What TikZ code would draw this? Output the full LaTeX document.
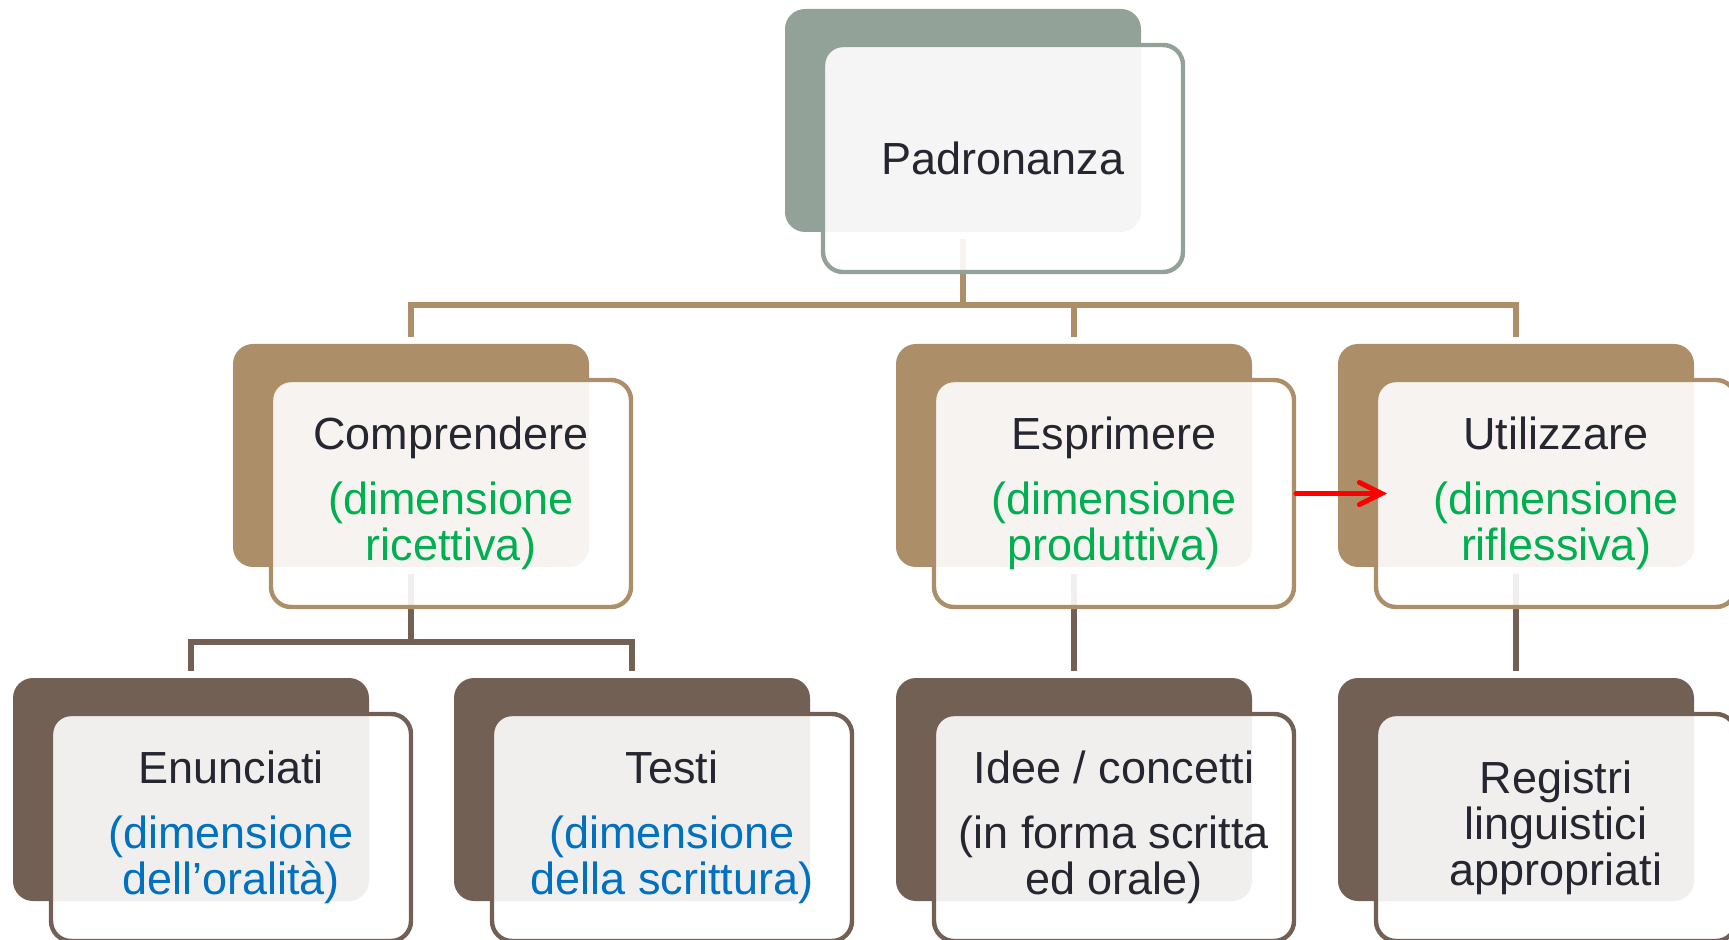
\documentclass[tikz,border=0pt]{standalone}
\usepackage{fontspec}
\setmainfont{Liberation Sans}
\usetikzlibrary{arrows.meta}
\definecolor{topC}{RGB}{146,162,152}
\definecolor{midC}{RGB}{172,142,104}
\definecolor{lowC}{RGB}{115,96,85}
\definecolor{txt}{RGB}{38,38,48}
\definecolor{grn}{RGB}{0,176,80}
\definecolor{blu}{RGB}{0,112,192}
\begin{document}
\begin{tikzpicture}[x=0.5pt,y=-0.5pt,
  back/.style={rounded corners=10pt, minimum width=178pt, minimum height=111.5pt,
    anchor=north west, inner sep=0pt, outer sep=0pt},
  front/.style={rounded corners=10pt, minimum width=180pt, minimum height=113.5pt,
    anchor=north west, fill=white, fill opacity=0.9, text opacity=1, draw opacity=1,
    line width=2.2pt, align=center, inner sep=0pt, outer sep=0pt, text=txt,
    font=\fontsize{22.5}{23}\selectfont},
  connA/.style={draw=midC, line width=2.6pt, shorten <=3.5pt, shorten >=3.5pt},
  connB/.style={draw=lowC, line width=2.6pt, shorten <=3.5pt, shorten >=3.5pt},
  redarrow/.style={draw=red, line width=2.5pt, line cap=round,
    -{Straight Barb[length=11pt,width=11pt,line cap=round]}}
]
\useasboundingbox (0,0) rectangle (1729,940);

% back rectangles
\node[back, fill=topC] (topB) at (785,9) {};
\node[back, fill=midC] (comB) at (233,344) {};
\node[back, fill=midC] (espB) at (896,344) {};
\node[back, fill=midC] (utiB) at (1338,344) {};
\node[back, fill=lowC] (enuB) at (13,678) {};
\node[back, fill=lowC] (tesB) at (454,678) {};
\node[back, fill=lowC] (ideB) at (896,678) {};
\node[back, fill=lowC] (regB) at (1338,678) {};

% connectors
\coordinate (busA) at (0,305);
\coordinate (busB) at (0,642);
\draw[connA] (topB.south) -- (topB.south |- busA) -| (comB.north);
\draw[connA] (topB.south) -- (topB.south |- busA) -| (espB.north);
\draw[connA] (topB.south) -- (topB.south |- busA) -| (utiB.north);
\draw[connB] (comB.south) -- (comB.south |- busB) -| (enuB.north);
\draw[connB] (comB.south) -- (comB.south |- busB) -| (tesB.north);
\draw[connB] (espB.south) -- (ideB.north);
\draw[connB] (utiB.south) -- (regB.north);

% front rectangles with text
\node[front, draw=topC] (topF) at ([shift={(38,36)}]topB.north west) {Padronanza};
\node[front, draw=midC] (comF) at ([shift={(38,36)}]comB.north west)
  {Comprendere\\[9.5pt]\textcolor{grn}{(dimensione}\\\textcolor{grn}{ricettiva)}};
\node[front, draw=midC] (espF) at ([shift={(38,36)}]espB.north west)
  {Esprimere\\[9.5pt]\textcolor{grn}{(dimensione}\\\textcolor{grn}{produttiva)}};
\node[front, draw=midC] (utiF) at ([shift={(38,36)}]utiB.north west)
  {Utilizzare\\[9.5pt]\textcolor{grn}{(dimensione}\\\textcolor{grn}{riflessiva)}};
\node[front, draw=lowC] (enuF) at ([shift={(38,36)}]enuB.north west)
  {Enunciati\\[9.5pt]\textcolor{blu}{(dimensione}\\\textcolor{blu}{dell’oralità)}};
\node[front, draw=lowC] (tesF) at ([shift={(38,36)}]tesB.north west)
  {Testi\\[9.5pt]\textcolor{blu}{(dimensione}\\\textcolor{blu}{della scrittura)}};
\node[front, draw=lowC] (ideF) at ([shift={(38,36)}]ideB.north west)
  {Idee / concetti\\[9.5pt](in forma scritta\\ed orale)};
\node[front, draw=lowC] (regF) at ([shift={(38,36)}]regB.north west)
  {Registri\\linguistici\\appropriati};

% red arrow
\draw[redarrow] ([xshift=1pt]espF.east) -- ([xshift=5.5pt]utiF.west);
\end{tikzpicture}
\end{document}
